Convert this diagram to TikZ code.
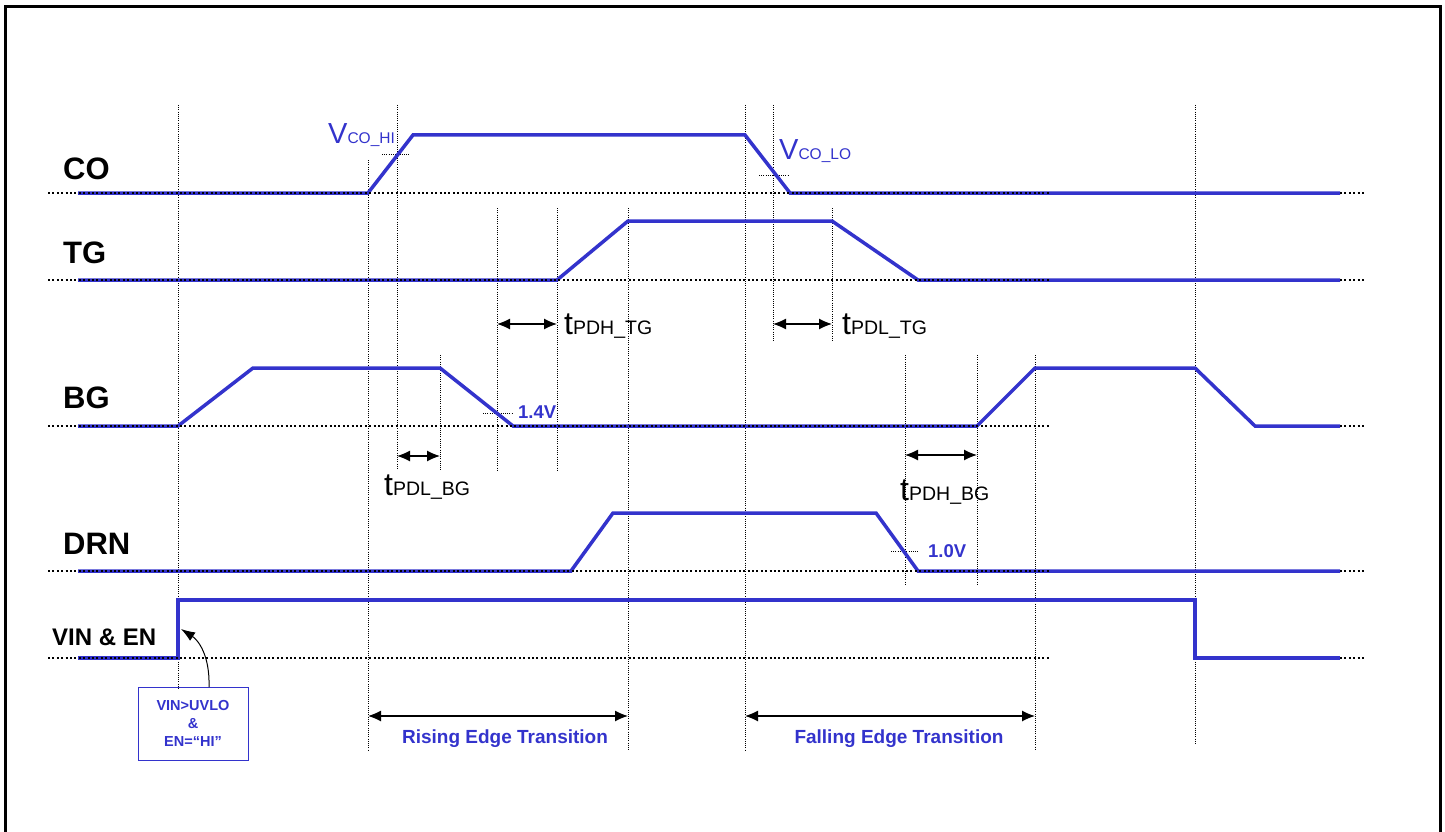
\documentclass[tikz,border=0pt]{standalone}
\usepackage{fontspec}
\setmainfont{Liberation Sans}
\usetikzlibrary{arrows.meta}
\definecolor{sig}{RGB}{51,51,204}
\newcommand{\fs}[1]{\fontsize{#1}{#1}\selectfont}
\begin{document}
\begin{tikzpicture}[x=1pt,y=-1pt,
  sigline/.style={sig, line width=3.5pt, line join=miter},
  baseln/.style={black, line width=2.2pt, dash pattern=on 2pt off 2.4pt},
  guide/.style={black, line width=1pt, dash pattern=on 1pt off 1.2pt},
  thr/.style={black, line width=1pt, dash pattern=on 1pt off 1.2pt},
  dimarrow/.style={{Latex[length=13pt,width=11pt]}-{Latex[length=13pt,width=11pt]}, line width=1.2pt},
  siglabel/.style={font=\fs{31}\bfseries, anchor=west, inner sep=0pt},
  tlabel/.style={anchor=base west, inner sep=0pt},
  vlabel/.style={anchor=base west, inner sep=0pt, text=sig},
  lvl/.style={anchor=base west, inner sep=0pt, text=sig, font=\fs{18.5}\bfseries},
  translabel/.style={anchor=base, inner sep=0pt, text=sig, font=\fs{19}\bfseries},
]
\useasboundingbox (0,0) rectangle (1445,832);
% border
\draw[line width=3pt] (5,860) -- (5,6.5) -- (1440,6.5) -- (1440,860);

% vertical guides
\foreach \x/\a/\b in {178/105/690, 368/160/750, 397/105/470, 440/355/470, 497/208/470,
  557/208/470, 628/208/750, 745/105/750, 773/105/342, 832/208/342, 905/355/585,
  977/355/585, 1035/355/750, 1195/105/745}
  \draw[guide] (\x,\a) -- (\x,\b);

% threshold marks
\draw[thr] (382,154) -- (410,154);
\draw[thr] (759,175) -- (788,175);
\draw[thr] (483,413) -- (512,413);
\draw[thr] (891,551) -- (919,551);

% signals
\draw[sigline] (78,193) -- (368,193) -- (413,135) -- (745,135) -- (790,193) -- (1340,193);
\draw[sigline] (78,280) -- (557,280) -- (628,221) -- (832,221) -- (918,280) -- (1340,280);
\draw[sigline] (78,426) -- (178,426) -- (253,368) -- (440,368) -- (513,426) -- (977,426)
  -- (1035,368) -- (1195,368) -- (1255,426) -- (1340,426);
\draw[sigline] (78,571) -- (571,571) -- (613,513) -- (876,513) -- (918,571) -- (1340,571);
\draw[sigline] (78,658) -- (178,658) -- (178,600) -- (1195,600) -- (1195,658) -- (1340,658);

% baselines
\foreach \y in {193,280,426,571,658} {
  \draw[baseln] (48,\y) -- (1050,\y);
  \draw[baseln] (1340,\y) -- (1366,\y);
}

% signal names
\node[siglabel] (lco) at (63,169) {CO};
\node[siglabel] (ltg) at (63,253) {TG};
\node[siglabel] (lbg) at (63,398) {BG};
\node[siglabel] (ldrn) at (63,544) {DRN};
\node[siglabel, font=\fs{24}\bfseries] (lvin) at (52,637) {VIN \& EN};

% threshold labels
\node[vlabel] (vcohi) at (328,143) {{\fs{29}V}{\fs{15.5}CO\_HI}};
\node[vlabel] (vcolo) at (779,159) {{\fs{29}V}{\fs{15.5}CO\_LO}};
\node[lvl] (l14) at (518,418) {1.4V};
\node[lvl] (l10) at (928,557) {1.0V};

% timing arrows
\coordinate (a1l) at (497,324); \coordinate (a1r) at (557,324);
\coordinate (a2l) at (773,324); \coordinate (a2r) at (832,324);
\coordinate (a3l) at (397,456); \coordinate (a3r) at (440,456);
\coordinate (a4l) at (905,455); \coordinate (a4r) at (977,455);
\coordinate (a5l) at (368,716); \coordinate (a5r) at (628,716);
\coordinate (a6l) at (745,716); \coordinate (a6r) at (1035,716);
\draw[dimarrow] (a1l) -- (a1r);
\draw[dimarrow] (a2l) -- (a2r);
\draw[dimarrow] (a3l) -- (a3r);
\draw[dimarrow] (a4l) -- (a4r);
\draw[dimarrow] (a5l) -- (a5r);
\draw[dimarrow] (a6l) -- (a6r);

\node[tlabel] (tpdhtg) at (564,334) {{\fs{32}t}{\fs{19.5}PDH\_TG}};
\node[tlabel] (tpdltg) at (842,334) {{\fs{32}t}{\fs{19.5}PDL\_TG}};
\node[tlabel] (tpdlbg) at (384,495) {{\fs{32}t}{\fs{19.5}PDL\_BG}};
\node[tlabel] (tpdhbg) at (900,500) {{\fs{32}t}{\fs{19.5}PDH\_BG}};

\node[translabel] (rise) at (505,743) {Rising Edge Transition};
\node[translabel] (fall) at (899,743) {Falling Edge Transition};

% condition box
\node[draw=sig, line width=1pt, minimum width=110pt, minimum height=73pt, inner sep=0pt,
  align=center, text=sig, font=\fontsize{14.5}{18}\selectfont\bfseries] (cond) at (193,723.5)
  {VIN>UVLO\\\&\\EN=“HI”};
\coordinate (boxtop) at (209,687);
\coordinate (vinstep) at (181,629);
\draw[-{Latex[length=14pt,width=10pt]}, line width=1pt] (boxtop) .. controls (210,655) and (198,640) .. (vinstep);
\end{tikzpicture}
\end{document}
